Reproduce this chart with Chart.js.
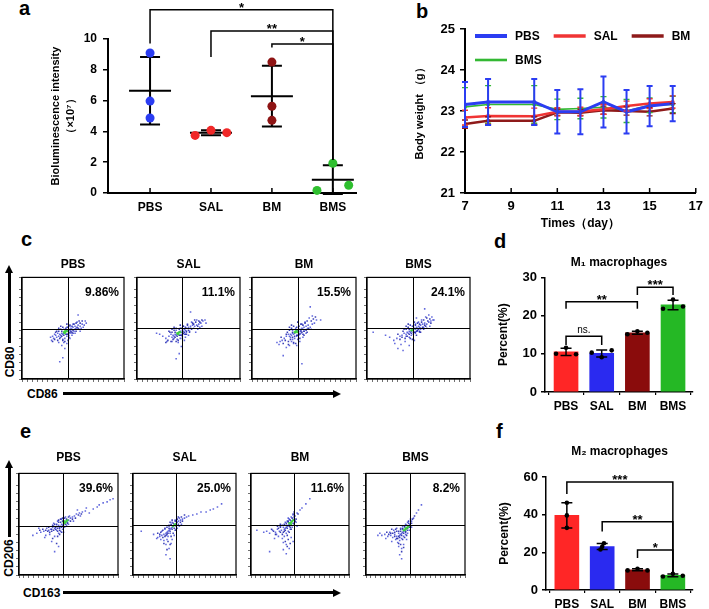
<!DOCTYPE html>
<html><head><meta charset="utf-8">
<script src="https://cdn.jsdelivr.net/npm/chart.js@4.4.1/dist/chart.umd.min.js"></script>
<style>
html,body{margin:0;padding:0;background:#fff}
body{width:709px;height:609px;position:relative;overflow:hidden;font-family:"Liberation Sans",Arial,sans-serif;color:#000}
canvas{position:absolute}
.lt{position:absolute;font-weight:bold;font-size:20px;line-height:20px}
.lab{position:absolute;font-weight:bold;font-size:12px;line-height:12px;white-space:nowrap;text-align:center}
.hs{position:absolute;height:3px;background:#000}
.vs{position:absolute;width:3px;background:#000}
.ahr{position:absolute;width:0;height:0;border-top:4px solid transparent;border-bottom:4px solid transparent;border-left:8px solid #000}
.ahu{position:absolute;width:0;height:0;border-left:4px solid transparent;border-right:4px solid transparent;border-bottom:8px solid #000}
</style></head><body>
<div class="lt" style="left:19px;top:-2px">a</div>
<div class="lt" style="left:416px;top:1px">b</div>
<div class="lt" style="left:21px;top:229px">c</div>
<div class="lt" style="left:494px;top:231px">d</div>
<div class="lt" style="left:20px;top:421px">e</div>
<div class="lt" style="left:496px;top:421px">f</div>

<div class="lab" style="left:-10px;top:356px;width:40px;transform:rotate(-90deg)">CD80</div>
<div class="vs" style="left:8px;top:272px;height:71px"></div>
<div class="ahu" style="left:5px;top:265px"></div>
<div class="lab" style="left:27px;top:388px;text-align:left">CD86</div>
<div class="hs" style="left:63px;top:392px;width:271px"></div>
<div class="ahr" style="left:333px;top:389.5px"></div>

<div class="lab" style="left:-13px;top:552px;width:44px;transform:rotate(-90deg)">CD206</div>
<div class="vs" style="left:8px;top:467px;height:70px"></div>
<div class="ahu" style="left:5px;top:460px"></div>
<div class="lab" style="left:23px;top:587px;text-align:left">CD163</div>
<div class="hs" style="left:63px;top:591px;width:271px"></div>
<div class="ahr" style="left:333px;top:588.5px"></div>

<script>
// ---------- DATA ----------
// panel a
const aCategories = ['PBS','SAL','BM','BMS'];
const aPBS = [9.09, 5.97, 4.87];
const aSAL = [3.74, 4.07, 3.92];
const aBM  = [8.5, 5.63, 4.72];
const aBMS = [0.17, 1.93, 0.5];
const aJitter = [[0,0,0],[-0.26,0,0.26],[0,0,0],[-0.26,0,0.26]];
const aBrackets = [
  {from:1,to:4,y:11.9,legFrom:9.7,legTo:2.14,label:'*'},
  {from:2,to:4,y:10.52,legFrom:8.83,legTo:2.14,label:'**'},
  {from:3,to:4,y:9.68,legFrom:9.45,legTo:2.14,label:'*'}
];
// panel b
const bDays  = [7,8,10,11,12,13,14,15,16];
const bPBS   = [23.16,23.22,23.22,22.98,22.98,23.22,22.98,23.12,23.18];
const bPBSsd = [0.55,0.56,0.56,0.53,0.55,0.62,0.53,0.49,0.43];
const bSAL   = [22.84,22.88,22.87,22.98,22.99,23.04,23.12,23.18,23.22];
const bSALsd = [0.18,0.2,0.2,0.1,0.1,0.12,0.12,0.12,0.15];
const bBM    = [22.68,22.76,22.76,22.97,22.96,23.02,23.0,22.98,23.06];
const bBMsd  = [0.1,0.1,0.1,0.08,0.08,0.1,0.1,0.1,0.12];
const bBMS   = [23.1,23.16,23.16,23.04,23.06,23.09,23.0,23.14,23.16];
const bBMSsd = [0.47,0.46,0.46,0.25,0.25,0.26,0.28,0.18,0.2];
// panel c (CD80 vs CD86, % of full scale)
const cTitles = ['PBS','SAL','BM','BMS'];
const cPercents = ['9.86%','11.1%','15.5%','24.1%'];
const cGateX = [45,44,44,45];
const cGateY = [49,50,49,50.5];
const c1Pts = [[42,46],[41,45],[43,47],[40,44],[44,48],[39,45],[45,47],[38,43],[46,49],[47,48],[37,44],[48,50],[49,49],[36,42],[50,51],[52,52],[34,41],[33,43],[31,40],[29,38],[53,50],[55,53],[57,52],[59,54],[61,53],[63,55],[56,49],[51,47],[48,45],[46,43],[44,42],[42,40],[40,39],[38,41],[35,45],[32,44],[54,56],[50,54],[47,52],[44,51],[41,49],[58,50],[60,51],[55,63],[37,17],[40,21],[42,30],[45,38],[41,36],[47,40],[36,36],[30,42],[28,41],[52,45],[49,43],[44,35],[39,33],[62,57],[57,47]];
const c1Dense = [[38,49],[40,51],[36,47],[44,44],[46,45],[48,47],[39,42],[37,40],[35,38],[45,51],[47,53],[43,50],[50,48],[52,49],[54,51],[51,54],[49,52],[53,47],[41,43],[43,44],[34,47],[32,39],[30,37],[36,50],[39,47],[45,44],[47,46],[49,46],[55,50],[57,55],[59,57],[53,55],[40,38],[42,37],[46,41],[50,45],[33,46],[38,52],[44,54],[56,57]];
const c1Core = [[42,46],[43,47],[41,46],[44,47],[42,45],[42,47]];
const c2Pts = [[40,45],[39,44],[41,46],[38,43],[42,47],[37,44],[43,46],[36,42],[44,48],[45,47],[35,43],[46,49],[47,48],[34,41],[48,50],[50,51],[52,52],[54,53],[56,52],[58,53],[60,54],[62,55],[64,57],[66,58],[55,50],[51,47],[48,46],[46,44],[44,42],[42,40],[39,39],[36,40],[33,44],[31,42],[28,40],[25,42],[22,44],[19,45],[53,56],[49,54],[45,52],[42,50],[38,48],[59,49],[61,51],[52,66],[38,20],[41,25],[43,32],[40,36],[46,38],[34,37],[29,37],[57,46],[63,52],[67,55],[50,43],[47,41],[58,58]];
const c2Dense = [[36,48],[38,50],[34,46],[42,43],[44,44],[46,46],[37,41],[35,39],[33,37],[43,50],[45,52],[41,49],[48,47],[50,48],[52,50],[49,53],[47,51],[51,46],[39,42],[41,43],[32,46],[30,38],[28,36],[34,49],[37,46],[43,43],[45,45],[47,44],[53,49],[55,54],[57,56],[60,57],[61,56],[59,52],[38,37],[40,38],[44,40],[48,44],[31,47],[36,51],[42,53],[54,55],[56,58],[63,58]];
const c2Core = [[40,45],[41,46],[39,45],[42,46],[40,44]];
const c3Pts = [[42,46],[41,45],[43,47],[40,44],[44,48],[39,45],[45,47],[38,43],[46,49],[47,48],[37,44],[48,50],[49,49],[36,42],[50,51],[52,52],[54,53],[56,51],[58,54],[60,55],[53,49],[50,47],[47,45],[45,43],[43,42],[41,40],[39,39],[37,41],[35,44],[33,42],[31,40],[29,38],[27,37],[24,36],[51,56],[48,54],[45,52],[42,50],[39,48],[57,49],[62,58],[56,71],[66,58],[30,23],[48,15],[43,33],[46,37],[40,35],[36,33],[33,31],[55,60],[58,62],[52,45],[49,41],[26,34],[38,37],[44,39]];
const c3Dense = [[38,50],[40,52],[36,48],[44,43],[46,44],[48,46],[39,41],[37,39],[35,37],[45,52],[47,54],[43,51],[50,47],[52,48],[54,50],[51,55],[49,53],[53,46],[41,42],[43,43],[34,46],[32,38],[30,35],[36,51],[39,46],[45,45],[47,47],[49,44],[55,49],[57,57],[59,59],[53,57],[40,36],[42,35],[46,40],[50,43],[33,44],[38,53],[44,56],[61,61],[35,34],[28,41]];
const c3Core = [[42,46],[43,47],[41,46],[44,46],[42,47]];
const c4Pts = [[44,48],[43,47],[45,49],[42,46],[46,50],[41,47],[47,49],[40,45],[48,51],[49,50],[39,46],[50,52],[51,51],[38,44],[52,53],[54,54],[56,55],[58,54],[60,56],[62,57],[64,58],[55,51],[52,49],[49,47],[47,45],[45,44],[43,43],[41,41],[38,42],[36,45],[34,43],[32,42],[29,40],[26,38],[22,41],[18,43],[53,58],[50,56],[47,54],[44,52],[40,50],[58,50],[61,52],[56,69],[65,58],[6,46],[30,30],[35,28],[41,33],[46,38],[37,37],[33,34],[57,61],[60,63],[48,60],[51,46],[63,61],[27,35]];
const c4Dense = [[40,51],[42,53],[38,49],[46,46],[48,47],[50,49],[41,44],[39,42],[37,40],[47,53],[49,55],[45,52],[52,50],[54,51],[56,53],[53,56],[51,54],[55,49],[43,45],[45,46],[36,49],[34,41],[32,39],[38,52],[41,49],[47,46],[49,48],[51,47],[57,52],[59,57],[61,59],[55,58],[42,40],[44,39],[48,43],[52,46],[35,47],[40,54],[46,56],[58,60],[62,55],[30,44]];
const c4Core = [[44,48],[45,49],[43,48]];
// panel e (CD206 vs CD163)
const ePercents = ['39.6%','25.0%','11.6%','8.2%'];
const eGateX = [44,42,44,44];
const eGateY = [48,49,49,49];
const e1Pts = [[46,51],[45,50],[47,52],[44,49],[48,53],[43,50],[49,52],[42,48],[50,54],[41,47],[40,49],[38,48],[36,46],[34,47],[32,45],[30,44],[28,46],[25,43],[22,42],[18,41],[14,39],[44,45],[42,43],[40,41],[38,44],[46,47],[48,49],[52,56],[54,57],[56,58],[58,60],[61,61],[64,62],[67,63],[71,61],[75,65],[79,67],[81,69],[85,71],[89,72],[95,75],[92,74],[68,66],[59,64],[51,58],[47,57],[43,55],[39,53],[36,38],[33,33],[36,23],[40,28],[45,42],[31,40],[27,39],[50,50],[55,53],[62,58],[35,51],[20,46],[26,37]];
const e1Dense = [[44,53],[42,52],[40,52],[38,50],[36,50],[34,49],[41,46],[39,46],[37,45],[35,44],[33,43],[31,42],[29,43],[45,48],[47,50],[49,51],[48,55],[50,57],[46,56],[44,56],[42,55],[40,54],[43,47],[41,44],[39,43],[37,47],[35,48],[33,45],[30,47],[27,44],[24,45],[21,44],[39,38],[41,40],[43,42],[34,36],[38,31],[52,53],[54,55],[57,56],[60,59],[63,60]];
const e1Core = [[46,51],[47,52],[48,53],[45,52],[49,54],[46,53]];
const e2Pts = [[39,48],[38,47],[40,49],[37,46],[41,50],[36,45],[42,51],[35,44],[43,52],[34,43],[33,42],[32,41],[30,40],[28,39],[26,38],[24,37],[23,36],[44,53],[46,54],[48,55],[50,56],[52,57],[36,41],[34,38],[33,35],[32,30],[35,26],[32,20],[36,16],[38,35],[40,39],[30,34],[28,43],[8,43],[20,40],[58,59],[62,60],[66,62],[71,62],[75,64],[78,65],[82,67],[86,70],[54,58],[45,56],[41,54],[38,52],[43,46],[45,48],[47,50],[35,48],[31,45],[27,35],[37,31]];
const e2Dense = [[37,50],[35,49],[33,47],[31,46],[29,44],[27,42],[36,43],[34,41],[32,39],[38,45],[40,46],[42,48],[41,53],[43,55],[39,51],[37,49],[35,46],[33,40],[31,38],[29,37],[37,38],[39,41],[41,44],[44,50],[46,52],[48,53],[34,33],[36,30],[33,25],[30,31],[26,40],[24,41],[44,57],[47,57],[50,59],[38,54],[36,52],[42,45]];
const e2Core = [[39,48],[40,49],[41,50]];
const e3Pts = [[40,51],[39,50],[41,52],[38,49],[42,53],[37,48],[43,54],[36,47],[44,55],[35,46],[34,45],[33,47],[31,44],[29,43],[27,45],[25,42],[22,44],[19,41],[16,43],[13,42],[6,44],[36,41],[34,38],[32,36],[38,43],[40,45],[42,47],[45,58],[47,61],[50,64],[52,66],[56,70],[60,75],[43,59],[41,57],[39,55],[37,53],[36,30],[36,21],[33,25],[19,23],[43,33],[41,37],[28,38],[24,36],[44,50],[46,52],[47,48],[38,56],[35,52],[30,48],[26,40],[39,26],[33,32]];
const e3Dense = [[38,52],[36,51],[34,50],[32,49],[30,47],[28,46],[37,46],[35,44],[33,42],[39,48],[41,49],[43,51],[42,56],[44,57],[40,54],[38,53],[36,49],[34,43],[32,40],[30,42],[37,39],[39,42],[41,45],[38,35],[37,28],[40,31],[35,33],[25,40],[23,43],[21,45],[45,53],[46,55],[43,60],[44,62],[48,60],[30,50],[27,48],[40,47]];
const e3Core = [[40,51],[41,52],[42,53],[39,51],[43,54],[41,50]];
const e4Pts = [[39,44],[38,43],[40,45],[37,42],[41,46],[36,41],[42,47],[35,40],[43,48],[34,39],[33,41],[31,38],[29,40],[27,37],[25,39],[22,38],[19,40],[16,39],[12,39],[14,41],[36,36],[34,34],[32,32],[38,38],[40,40],[44,50],[46,53],[48,56],[51,61],[53,64],[56,69],[45,55],[42,52],[40,50],[37,48],[35,46],[34,20],[36,16],[33,28],[38,30],[41,35],[30,35],[26,33],[44,44],[46,47],[42,41],[28,44],[31,46],[24,42],[39,47],[36,26],[20,36]];
const e4Dense = [[37,46],[35,45],[33,43],[31,43],[29,42],[27,41],[36,39],[34,37],[32,36],[38,41],[40,42],[42,44],[41,49],[43,51],[39,48],[37,45],[35,43],[33,38],[31,36],[29,38],[37,35],[39,37],[41,39],[38,27],[36,23],[33,31],[35,30],[25,41],[23,40],[21,42],[45,48],[46,51],[43,53],[47,55],[49,58],[30,45],[26,45],[40,43],[42,46],[44,47]];
const e4Core = [[39,44],[40,45],[41,46],[42,47],[38,44],[40,46],[43,48]];
// panel d
const dCategories = ['PBS','SAL','BM','BMS'];
const dPBS = [10.0, 11.6, 9.9];
const dSAL = [10.3, 9.1, 10.9];
const dBM  = [15.1, 15.9, 15.5];
const dBMS = [21.8, 24.2, 22.4];
const dJitter = [-0.28, 0, 0.28];
const dBrackets = [
  {from:0,to:1,y:14.6,legFrom:12.3,legTo:12.3,label:'ns.'},
  {from:0,to:2,y:23.6,legFrom:21.8,legTo:21.8,label:'**'},
  {from:2,to:3,y:27.4,legFrom:25.4,legTo:25.4,label:'***'}
];
// panel f
const fCategories = ['PBS','SAL','BM','BMS'];
const fPBS = [33.0, 39.6, 46.3];
const fSAL = [21.5, 23.0, 24.8];
const fBM  = [10.4, 11.3, 10.4];
const fBMS = [7.2, 8.6, 7.6];
const fJitter = [[0,0,0],[-0.05,0,0.05],[-0.28,0,0.28],[-0.28,0,0.28]];
const fBrackets = [
  {from:0,to:3,y:57.4,legFrom:51,legTo:9.5,label:'***'},
  {from:1,to:3,y:36.2,legFrom:31,legTo:9.5,label:'**'},
  {from:2,to:3,y:21.3,legFrom:17,legTo:9.5,label:'*'}
];

// ---------- STYLE / HELPERS ----------
const FF = '"Liberation Sans", Arial, sans-serif';
Chart.defaults.font.family = FF;
Chart.defaults.color = '#000';
const groupColors = ['#2b3df2','#f02828','#8e1414','#2fbf2f'];
const barColors = ['#ff2626','#2a2af0','#8a0c0c','#25b825'];
const mean = a => a.reduce((s,v)=>s+v,0)/a.length;
const sd = a => { const m = mean(a); return Math.sqrt(a.reduce((s,v)=>s+(v-m)*(v-m),0)/(a.length-1)); };

function mkCanvas(left, top, w, h) {
  const cv = document.createElement('canvas');
  cv.width = w; cv.height = h;
  cv.style.left = left + 'px'; cv.style.top = top + 'px';
  cv.style.width = w + 'px'; cv.style.height = h + 'px';
  document.body.appendChild(cv);
  return cv;
}
function drawBrackets(ctx, x, y, list) {
  ctx.save();
  ctx.strokeStyle = '#000'; ctx.fillStyle = '#000'; ctx.lineWidth = 1.5;
  ctx.textAlign = 'center'; ctx.textBaseline = 'alphabetic';
  list.forEach(b => {
    const x1 = x.getPixelForValue(b.from), x2 = x.getPixelForValue(b.to), yl = y.getPixelForValue(b.y);
    ctx.beginPath();
    ctx.moveTo(x1, y.getPixelForValue(b.legFrom)); ctx.lineTo(x1, yl);
    ctx.lineTo(x2, yl); ctx.lineTo(x2, y.getPixelForValue(b.legTo));
    ctx.stroke();
    const ast = /^\*+$/.test(b.label);
    ctx.font = ast ? 'bold 13px ' + FF : '10px ' + FF;
    ctx.fillText(b.label, (x1 + x2) / 2, ast ? yl + 2 : yl - 3);
  });
  ctx.restore();
}
const yGrid = {display:true, drawOnChartArea:false, drawTicks:true, tickLength:5, color:'#000', lineWidth:1.5};
const border2 = {display:true, color:'#000', width:2};
const baseOpts = {responsive:false, animation:false, devicePixelRatio:1, events:[]};

// ---------- PANEL A ----------
const aValues = [aPBS, aSAL, aBM, aBMS];
const aPlugin = {
  id:'aExtras',
  beforeDatasetsDraw(chart) {
    const {ctx, scales:{x, y}} = chart;
    ctx.save(); ctx.strokeStyle = '#000'; ctx.lineWidth = 2;
    aValues.forEach((vals, i) => {
      const m = mean(vals), s = sd(vals), cx = x.getPixelForValue(i + 1);
      const ym = y.getPixelForValue(m), yt = y.getPixelForValue(m + s), yb = y.getPixelForValue(m - s);
      ctx.beginPath();
      ctx.moveTo(cx - 21, ym); ctx.lineTo(cx + 21, ym);
      ctx.moveTo(cx, yt); ctx.lineTo(cx, yb);
      ctx.moveTo(cx - 10, yt); ctx.lineTo(cx + 10, yt);
      ctx.moveTo(cx - 10, yb); ctx.lineTo(cx + 10, yb);
      ctx.stroke();
    });
    ctx.lineWidth = 1.5;
    aCategories.forEach((c, i) => {
      const cx = x.getPixelForValue(i + 1);
      ctx.beginPath(); ctx.moveTo(cx, y.bottom); ctx.lineTo(cx, y.bottom - 5); ctx.stroke();
    });
    ctx.restore();
  },
  afterDraw(chart) { drawBrackets(chart.ctx, chart.scales.x, chart.scales.y, aBrackets); }
};
new Chart(mkCanvas(0, 0, 362, 225), {
  type:'scatter',
  data:{datasets: aCategories.map((c, i) => ({
    label:c,
    data: aValues[i].map((v, j) => ({x: i + 1 + aJitter[i][j], y: v})),
    backgroundColor: groupColors[i], borderWidth:0, pointRadius:4.5, clip:false
  }))},
  options:Object.assign({}, baseOpts, {
    layout:{padding:{top:39, left:48, right:6, bottom:0}, autoPadding:false},
    plugins:{legend:{display:false}, tooltip:{enabled:false}},
    scales:{
      x:{type:'linear', min:0.31, max:4.38,
        afterBuildTicks: s => { s.ticks = aCategories.map((c, i) => ({value: i + 1})); },
        ticks:{callback: v => aCategories[v - 1], font:{size:12, weight:'bold'}, padding:7, maxRotation:0, autoSkip:false},
        grid:{display:true, drawOnChartArea:false, drawTicks:false, color:'#000'},
        border:border2, afterFit: s => { s.height = 32; }},
      y:{type:'linear', min:0, max:10,
        ticks:{stepSize:2, font:{size:12, weight:'bold'}, padding:6},
        grid:yGrid, border:border2,
        title:{display:true, text:['Bioluminescence intensity', '（×10⁷）'], font:{size:11, weight:'bold', lineHeight:1.4}, padding:0},
        afterFit: s => { s.width = 60; }}
    }
  }),
  plugins:[aPlugin]
});

// ---------- PANEL B ----------
const bSeries = [
  {label:'PBS', v:bPBS, sd:bPBSsd, color:groupColors[0], w:3},
  {label:'SAL', v:bSAL, sd:bSALsd, color:'#f03434', w:2.5},
  {label:'BM',  v:bBM,  sd:bBMsd,  color:'#8e1a1a', w:2.5},
  {label:'BMS', v:bBMS, sd:bBMSsd, color:'#33b833', w:1.6}
];
const bPlugin = {
  id:'bExtras',
  afterDatasetsDraw(chart) {
    const {ctx, scales:{x, y}} = chart;
    ctx.save();
    for (let k = bSeries.length - 1; k >= 0; k--) {
      const s = bSeries[k];
      ctx.strokeStyle = s.color; ctx.lineWidth = k === 0 ? 2 : 1.4;
      bDays.forEach((d, i) => {
        const cx = x.getPixelForValue(d), t = y.getPixelForValue(s.v[i] + s.sd[i]), b = y.getPixelForValue(s.v[i] - s.sd[i]);
        ctx.beginPath();
        ctx.moveTo(cx, t); ctx.lineTo(cx, b);
        ctx.moveTo(cx - 3, t); ctx.lineTo(cx + 3, t);
        ctx.moveTo(cx - 3, b); ctx.lineTo(cx + 3, b);
        ctx.stroke();
      });
    }
    ctx.restore();
  },
  afterDraw(chart) {
    const {ctx, chartArea:area, scales:{x, y}} = chart;
    ctx.save();
    ctx.strokeStyle = '#000'; ctx.lineWidth = 1.5;
    x.ticks.forEach(t => {
      const px = x.getPixelForValue(t.value);
      ctx.beginPath(); ctx.moveTo(px, area.bottom); ctx.lineTo(px, area.bottom - 5); ctx.stroke();
    });
    ctx.font = 'bold 12px ' + FF; ctx.textBaseline = 'middle'; ctx.textAlign = 'left'; ctx.fillStyle = '#000';
    let lx = area.left + 10, ly = area.top + 7;
    bSeries.forEach(s => {
      const w = 32 + 8 + ctx.measureText(s.label).width;
      if (lx + w > area.right) { lx = area.left + 10; ly += 24; }
      ctx.strokeStyle = s.color; ctx.lineWidth = s.w + 1;
      ctx.beginPath(); ctx.moveTo(lx, ly); ctx.lineTo(lx + 32, ly); ctx.stroke();
      ctx.fillText(s.label, lx + 40, ly + 1);
      lx += w + 14;
    });
    ctx.restore();
  }
};
new Chart(mkCanvas(360, 0, 349, 232), {
  type:'line',
  data:{datasets: bSeries.map(s => ({
    label:s.label, data: bDays.map((d, i) => ({x:d, y:s.v[i]})),
    borderColor:s.color, backgroundColor:s.color, borderWidth:s.w,
    pointRadius:2, pointBackgroundColor:s.color, pointBorderWidth:0, tension:0, fill:false
  }))},
  options:Object.assign({}, baseOpts, {
    layout:{padding:{top:29, left:53, right:7, bottom:0}, autoPadding:false},
    plugins:{legend:{display:false}, tooltip:{enabled:false}},
    scales:{
      x:{type:'linear', min:7, max:17,
        ticks:{stepSize:2, font:{size:13, weight:'bold'}, padding:6, maxRotation:0},
        grid:{display:true, drawOnChartArea:false, drawTicks:false, color:'#000'},
        border:border2,
        title:{display:true, text:'Times（day）', font:{size:12, weight:'bold'}, padding:{top:0, bottom:1}},
        afterFit: s => { s.height = 39; }},
      y:{type:'linear', min:21, max:25,
        ticks:{stepSize:1, font:{size:13, weight:'bold'}, padding:5},
        grid:yGrid, border:border2,
        title:{display:true, text:'Body weight （g）', font:{size:11, weight:'bold'}, padding:0},
        afterFit: s => { s.width = 52; }}
    }
  }),
  plugins:[bPlugin]
});

// ---------- PANELS C / E (flow plots) ----------
const flowPlugin = {
  id:'flowExtras',
  afterDraw(chart, args, o) {
    const {ctx, chartArea:a, scales:{x, y}} = chart;
    ctx.save();
    ctx.strokeStyle = '#000'; ctx.lineWidth = 1;
    const gx = Math.round(x.getPixelForValue(o.gx)) + 0.5, gy = Math.round(y.getPixelForValue(o.gy)) + 0.5;
    ctx.beginPath();
    ctx.moveTo(gx, a.top); ctx.lineTo(gx, a.bottom);
    ctx.moveTo(a.left, gy); ctx.lineTo(a.right, gy);
    ctx.stroke();
    ctx.lineWidth = 1.2;
    ctx.strokeRect(a.left, a.top, a.right - a.left, a.bottom - a.top);
    ctx.font = 'bold 12px ' + FF; ctx.fillStyle = '#000'; ctx.textAlign = 'right'; ctx.textBaseline = 'middle';
    ctx.fillText(o.pct, a.right - 5, a.top + 15);
    ctx.restore();
  }
};
const flowGrid = {display:true, drawOnChartArea:false, drawTicks:true, tickLength:3, color:'#333', lineWidth:0.7};
function flow(box, pts, dense, core, title, pct, gx, gy, tpb) {
  const th = 14.4 + tpb;
  const cv = mkCanvas(box[0] - 5, Math.round(box[1] - th), box[2] + 7, Math.round(th + box[3] + 5));
  new Chart(cv, {
    type:'scatter',
    data:{datasets:[
      {data: core.map(p => ({x:p[0], y:p[1]})), backgroundColor:'#3fd23f', pointRadius:1.4, pointStyle:'rect', borderWidth:0},
      {data: dense.map(p => ({x:p[0], y:p[1]})), backgroundColor:'rgba(25,30,170,0.85)', pointRadius:1.1, pointStyle:'rect', borderWidth:0},
      {data: pts.map(p => ({x:p[0], y:p[1]})), backgroundColor:'rgba(45,55,210,0.75)', pointRadius:1.1, pointStyle:'rect', borderWidth:0}
    ]},
    options:Object.assign({}, baseOpts, {
      layout:{padding:{left:0, right:2, top:0, bottom:0}, autoPadding:false},
      plugins:{legend:{display:false}, tooltip:{enabled:false},
        title:{display:true, text:title, fullSize:false, font:{size:12, weight:'bold'}, padding:{top:0, bottom:tpb}},
        flowExtras:{gx:gx, gy:gy, pct:pct}},
      scales:{
        x:{type:'linear', min:0, max:100, ticks:{display:false, stepSize:5}, grid:flowGrid, border:{display:true, color:'#000', width:1.2}, afterFit: s => { s.height = 5; }},
        y:{type:'linear', min:0, max:100, ticks:{display:false, stepSize:8}, grid:flowGrid, border:{display:true, color:'#000', width:1.2}, afterFit: s => { s.width = 5; }}
      }
    }),
    plugins:[flowPlugin]
  });
}
const cBoxes = [[22,277,102,102],[137,277,103,102],[252,277,104,102],[367,277,103,102]];
const eBoxes = [[19,473,99,102],[133,473,103,102],[251,473,98,102],[366,473,99,102]];
const cPts = [c1Pts, c2Pts, c3Pts, c4Pts], cDense = [c1Dense, c2Dense, c3Dense, c4Dense], cCores = [c1Core, c2Core, c3Core, c4Core];
const ePts = [e1Pts, e2Pts, e3Pts, e4Pts], eDense = [e1Dense, e2Dense, e3Dense, e4Dense], eCores = [e1Core, e2Core, e3Core, e4Core];
cTitles.forEach((t, i) => flow(cBoxes[i], cPts[i], cDense[i], cCores[i], t, cPercents[i], cGateX[i], cGateY[i], 6));
cTitles.forEach((t, i) => flow(eBoxes[i], ePts[i], eDense[i], eCores[i], t, ePercents[i], eGateX[i], eGateY[i], 9));

// ---------- PANELS D / F (bars) ----------
function barPanel(pos, cats, dots, jit, brackets, title, yMax, yStep, padL, yW, tpt, tpb, xMin, xMax, xH) {
  const plugin = {
    id:'barExtras',
    afterDatasetsDraw(chart) {
      const {ctx, scales:{x, y}} = chart;
      ctx.save(); ctx.strokeStyle = '#000'; ctx.lineWidth = 1.5;
      dots.forEach((vals, i) => {
        const m = mean(vals), s = sd(vals), cx = x.getPixelForValue(i);
        const t = y.getPixelForValue(m + s), b = y.getPixelForValue(m - s);
        ctx.beginPath();
        ctx.moveTo(cx, t); ctx.lineTo(cx, b);
        ctx.moveTo(cx - 5.5, t); ctx.lineTo(cx + 5.5, t);
        ctx.moveTo(cx - 5.5, b); ctx.lineTo(cx + 5.5, b);
        ctx.stroke();
      });
      ctx.restore();
      drawBrackets(ctx, x, y, brackets);
    }
  };
  new Chart(mkCanvas(pos[0], pos[1], pos[2], pos[3]), {
    type:'bar',
    data:{datasets:[
      {type:'scatter', data: dots.flatMap((vals, i) => vals.map((v, j) => ({x: i + (Array.isArray(jit[0]) ? jit[i][j] : jit[j]), y: v}))),
       backgroundColor:'#000', pointRadius:2.3, borderWidth:0},
      {type:'bar', data: dots.map((vals, i) => ({x:i, y:mean(vals)})), backgroundColor:barColors, borderWidth:0, barThickness:24}
    ]},
    options:Object.assign({}, baseOpts, {
      layout:{padding:{top:0, left:padL, right:16, bottom:0}, autoPadding:false},
      plugins:{legend:{display:false}, tooltip:{enabled:false},
        title:{display:true, text:title, fullSize:false, font:{size:12, weight:'bold'}, padding:{top:tpt, bottom:tpb}}},
      scales:{
        x:{type:'linear', min:xMin, max:xMax, offset:false,
          afterBuildTicks: s => { s.ticks = cats.map((c, i) => ({value:i})); },
          ticks:{callback: v => cats[v], font:{size:12, weight:'bold'}, padding:4, maxRotation:0, autoSkip:false},
          grid:{display:true, drawOnChartArea:false, drawTicks:true, tickLength:3, color:'#000', lineWidth:1.2},
          border:{display:true, color:'#000', width:1.5},
          afterFit: s => { s.height = xH; }},
        y:{type:'linear', min:0, max:yMax,
          ticks:{stepSize:yStep, font:{size:13, weight:'bold'}, padding:4},
          grid:{display:true, drawOnChartArea:false, drawTicks:true, tickLength:4, color:'#000', lineWidth:1.5},
          border:{display:true, color:'#000', width:1.5},
          title:{display:true, text:'Percent(%)', font:{size:12, weight:'bold'}, padding:0},
          afterFit: s => { s.width = yW; }}
      }
    }),
    plugins:[plugin]
  });
}
barPanel([470,225,239,190], dCategories, [dPBS, dSAL, dBM, dBMS], dJitter, dBrackets, 'M₁ macrophages', 30, 10, 26, 49, 30, 8, -0.59, 3.56, 23);
barPanel([470,415,239,194], fCategories, [fPBS, fSAL, fBM, fBMS], fJitter, fBrackets, 'M₂ macrophages', 60, 20, 27, 49, 29, 18.6, -0.59, 3.57, 19);
</script>
</body></html>
